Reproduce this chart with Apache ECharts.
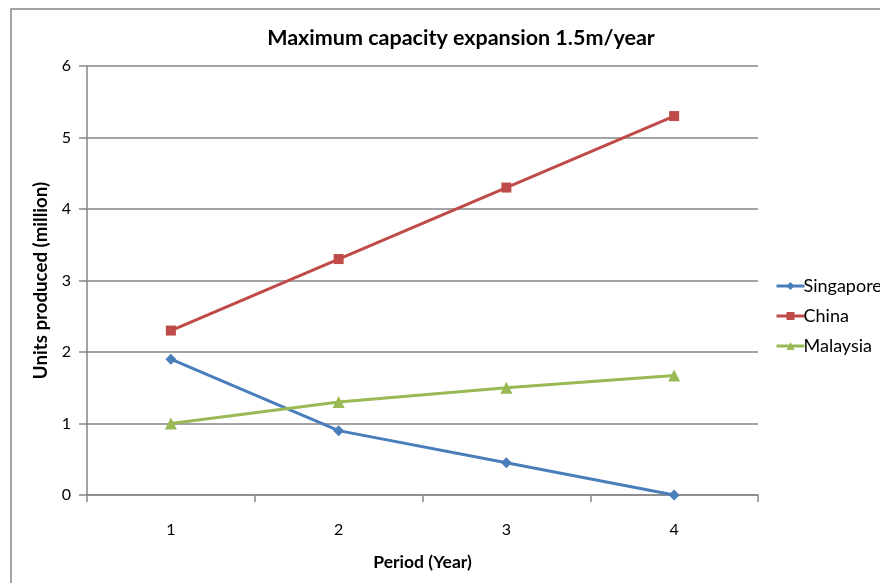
<!DOCTYPE html>
<html>
<head>
<meta charset="utf-8">
<script src="https://cdn.jsdelivr.net/npm/echarts@6/dist/echarts.min.js"></script>
<style>
  html, body { margin: 0; padding: 0; background: #fff; }
  #chart { width: 880px; height: 583px; }
</style>
</head>
<body>
<div id="chart"></div>
<script>
// Production plan per period, in million units
const periods = ['1', '2', '3', '4'];
const singapore = [1.9, 0.9, 0.45, 0.0];
const china = [2.3, 3.3, 4.3, 5.3];
const malaysia = [1.0, 1.3, 1.5, 1.67];
const yTicks = [0, 1, 2, 3, 4, 5, 6];
const countries = ['Singapore', 'China', 'Malaysia'];

const font = 'Lato, "Open Sans", sans-serif';
const gridGrey = '#868686';

const chart = echarts.init(document.getElementById('chart'));

function lineSeries(name, data, color, symbol, size) {
  return {
    name: name,
    type: 'line',
    data: data,
    symbol: symbol,
    symbolSize: size,
    showAllSymbol: true,
    lineStyle: { color: color, width: 3 },
    itemStyle: { color: color },
    emphasis: { disabled: true },
    z: 3
  };
}

chart.setOption({
  animation: false,
  backgroundColor: '#fff',
  graphic: [{
    type: 'rect',
    shape: { x: 11, y: 9, width: 900, height: 600 },
    style: { fill: 'none', stroke: gridGrey, lineWidth: 1.5 },
    silent: true
  }],
  title: {
    text: 'Maximum capacity expansion 1.5m/year',
    left: 456,
    textAlign: 'center',
    top: 22,
    textStyle: { fontFamily: font, fontSize: 21.5, fontWeight: 'bold', color: '#000' }
  },
  legend: {
    orient: 'vertical',
    left: 770,
    top: 272,
    itemWidth: 28,
    itemHeight: 10,
    itemGap: 12,
    lineStyle: { width: 3 },
    textStyle: { fontFamily: font, fontSize: 18, color: '#000', padding: [0, 0, 0, -6] },
    data: countries.map(n => ({ name: n, lineStyle: { width: 3 } }))
  },
  grid: { left: 87, right: 122, top: 66, bottom: 88, containLabel: false },
  xAxis: {
    type: 'category',
    data: periods,
    boundaryGap: true,
    name: 'Period (Year)',
    nameLocation: 'middle',
    nameGap: 58,
    nameTextStyle: { fontFamily: font, fontSize: 17.5, fontWeight: 'bold', color: '#000' },
    axisLine: { lineStyle: { color: gridGrey, width: 1.5 } },
    axisTick: { show: true, length: 7, alignWithLabel: false, lineStyle: { color: gridGrey, width: 1.5 } },
    axisLabel: { fontFamily: font, fontSize: 16, color: '#000', margin: 27 },
    splitLine: { show: false }
  },
  yAxis: {
    type: 'value',
    min: 0,
    max: 6,
    interval: 1,
    name: 'Units produced (million)',
    nameLocation: 'middle',
    nameGap: 37,
    nameRotate: 90,
    nameMoveOverlap: false,
    nameTextStyle: { fontFamily: font, fontSize: 18.7, fontWeight: 'bold', color: '#000' },
    axisLine: { show: true, lineStyle: { color: gridGrey, width: 1.5 } },
    axisTick: { show: true, length: 8, lineStyle: { color: gridGrey, width: 1.5 } },
    axisLabel: {
      fontFamily: font, fontSize: 16, color: '#000', margin: 16,
      formatter: v => (yTicks.includes(v) ? String(v) : '')
    },
    splitLine: { show: true, lineStyle: { color: gridGrey, width: 1.5 } }
  },
  series: [
    lineSeries('Singapore', singapore, '#4A7EBB', 'diamond', 11),
    lineSeries('China', china, '#BE4B48', 'rect', 10),
    lineSeries('Malaysia', malaysia, '#98B954', 'triangle', 12)
  ]
});
</script>
</body>
</html>
